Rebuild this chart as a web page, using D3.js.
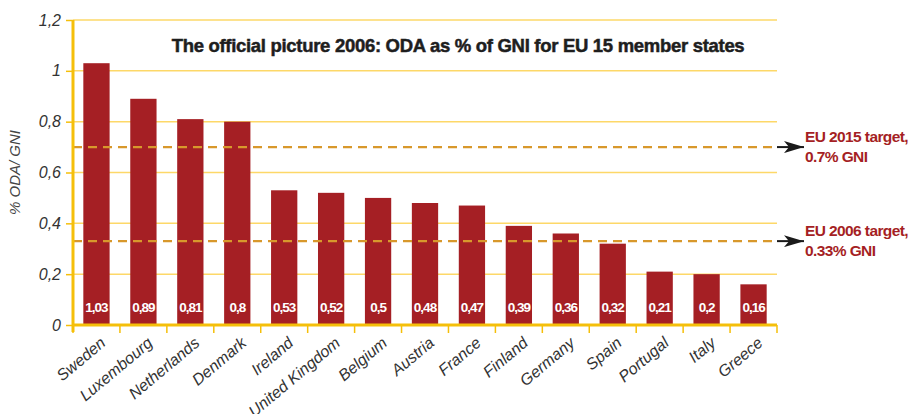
<!DOCTYPE html>
<html>
<head>
<meta charset="utf-8">
<script src="https://cdn.jsdelivr.net/npm/d3@7"></script>
<style>
  body { margin: 0; background: #fff; }
  svg { display: block; font-family: "Liberation Sans", Arial, sans-serif; }
</style>
</head>
<body>
<div id="chart"></div>
<script>
  const countries = ["Sweden", "Luxembourg", "Netherlands", "Denmark", "Ireland", "United Kingdom",
    "Belgium", "Austria", "France", "Finland", "Germany", "Spain", "Portugal", "Italy", "Greece"];
  const odaShare = [1.03, 0.89, 0.81, 0.8, 0.53, 0.52, 0.5, 0.48, 0.47, 0.39, 0.36, 0.32, 0.21, 0.2, 0.16];
  const yTicks = [0, 0.2, 0.4, 0.6, 0.8, 1, 1.2];
  const targets = [
    { value: 0.7, line1: "EU 2015 target,", line2: "0.7% GNI" },
    { value: 0.33, line1: "EU 2006 target,", line2: "0.33% GNI" }
  ];

  const width = 913, height = 414;
  const margin = { top: 20, right: 136, bottom: 89, left: 73 };
  const fmt = d => String(d).replace(".", ",");

  const svg = d3.select("#chart").append("svg")
    .attr("width", width)
    .attr("height", height);

  const x = d3.scaleBand()
    .domain(countries)
    .range([margin.left, width - margin.right])
    .paddingInner(0.44)
    .paddingOuter(0.22);

  const y = d3.scaleLinear()
    .domain([0, 1.2])
    .range([height - margin.bottom, margin.top]);

  // gridlines
  svg.append("g")
    .selectAll("line")
    .data(yTicks.slice(1))
    .enter().append("line")
    .attr("x1", margin.left)
    .attr("x2", width - margin.right)
    .attr("y1", d => y(d))
    .attr("y2", d => y(d))
    .attr("stroke", "#fdd868")
    .attr("stroke-width", 1.5);

  // bars
  svg.append("g")
    .selectAll("rect")
    .data(odaShare)
    .enter().append("rect")
    .attr("x", (d, i) => x(countries[i]))
    .attr("width", x.bandwidth())
    .attr("y", d => y(d))
    .attr("height", d => y(0) - y(d))
    .attr("fill", "#a51f24");

  // value labels
  svg.append("g")
    .selectAll("text")
    .data(odaShare)
    .enter().append("text")
    .attr("x", (d, i) => x(countries[i]) + x.bandwidth() / 2)
    .attr("y", y(0) - 13)
    .attr("text-anchor", "middle")
    .attr("fill", "#fff")
    .attr("font-size", 13.5)
    .attr("font-weight", "bold")
    .attr("letter-spacing", -1)
    .text(d => fmt(d));

  // target lines
  const tg = svg.append("g");
  svg.append("defs").append("marker")
    .attr("id", "arrow")
    .attr("viewBox", "0 0 20 12")
    .attr("refX", 20).attr("refY", 6)
    .attr("markerWidth", 20).attr("markerHeight", 12)
    .attr("markerUnits", "userSpaceOnUse")
    .attr("orient", "auto")
    .append("path")
    .attr("d", "M0,0 L20,6 L0,12 L5,6 Z")
    .attr("fill", "#1a1a1a");

  tg.selectAll("line.target")
    .data(targets)
    .enter().append("line")
    .attr("class", "target")
    .attr("x1", margin.left)
    .attr("x2", width - margin.right)
    .attr("y1", d => y(d.value))
    .attr("y2", d => y(d.value))
    .attr("stroke", "#d8982c")
    .attr("stroke-width", 2.2)
    .attr("stroke-dasharray", "9,6");

  tg.selectAll("line.arrow")
    .data(targets)
    .enter().append("line")
    .attr("class", "arrow")
    .attr("x1", width - margin.right)
    .attr("x2", width - margin.right + 27)
    .attr("y1", d => y(d.value))
    .attr("y2", d => y(d.value))
    .attr("stroke", "#1a1a1a")
    .attr("stroke-width", 2)
    .attr("marker-end", "url(#arrow)");

  const lbl = tg.selectAll("text")
    .data(targets)
    .enter().append("text")
    .attr("x", width - margin.right + 28)
    .attr("y", d => y(d.value) - 5)
    .attr("fill", "#a51f24")
    .attr("font-size", 15.5)
    .attr("font-weight", "bold")
    .attr("letter-spacing", -0.6);
  lbl.append("tspan").text(d => d.line1);
  lbl.append("tspan")
    .attr("x", width - margin.right + 28)
    .attr("dy", 20)
    .text(d => d.line2);

  // y axis
  const yAxis = svg.append("g")
    .attr("transform", `translate(${margin.left},0)`)
    .call(d3.axisLeft(y).tickValues(yTicks).tickFormat(fmt).tickSize(7).tickPadding(5));
  yAxis.select(".domain").attr("stroke", "#f5bf0a").attr("stroke-width", 3)
    .attr("d", `M0,${y(1.2)}V${y(0) + 7}`);
  yAxis.selectAll(".tick line").attr("stroke", "#f5bf0a").attr("stroke-width", 1.5);
  yAxis.selectAll(".tick text")
    .attr("font-size", 16)
    .attr("font-style", "italic")
    .attr("fill", "#333")
    .attr("font-family", "Liberation Sans, Arial, sans-serif");

  // x axis
  const xAxis = svg.append("g")
    .attr("transform", `translate(0,${y(0)})`)
    .call(d3.axisBottom(x).tickSize(0));
  xAxis.select(".domain").attr("stroke", "#f5bf0a").attr("stroke-width", 3)
    .attr("d", `M${margin.left},0H${width - margin.right}`);
  xAxis.selectAll(".tick text").remove();

  const bandTicks = countries.map(c => x(c) - x.step() * x.paddingInner() / 2).concat([width - margin.right]);
  xAxis.selectAll("line.bt")
    .data(bandTicks)
    .enter().append("line")
    .attr("class", "bt")
    .attr("x1", d => d).attr("x2", d => d)
    .attr("y1", 0).attr("y2", 8)
    .attr("stroke", "#f5bf0a")
    .attr("stroke-width", 1.5);

  xAxis.selectAll("text.cl")
    .data(countries)
    .enter().append("text")
    .attr("class", "cl")
    .attr("transform", d => `translate(${x(d) + x.bandwidth() / 2 + 3},${11}) rotate(-40)`)
    .attr("text-anchor", "end")
    .attr("dy", "0.7em")
    .attr("font-size", 16)
    .attr("font-style", "italic")
    .attr("fill", "#333")
    .text(d => d);

  // y label
  svg.append("text")
    .attr("transform", `translate(20,${y(0.6)}) rotate(-90)`)
    .attr("text-anchor", "middle")
    .attr("font-size", 15)
    .attr("font-style", "italic")
    .attr("fill", "#444")
    .text("% ODA/ GNI");

  // title
  svg.append("text")
    .attr("x", 458)
    .attr("y", 52)
    .attr("text-anchor", "middle")
    .attr("font-size", 18.5)
    .attr("font-weight", "bold")
    .attr("fill", "#1e1e1e")
    .attr("stroke", "#1e1e1e")
    .attr("stroke-width", 0.5)
    .attr("letter-spacing", -0.3)
    .text("The official picture 2006: ODA as % of GNI for EU 15 member states");
</script>
</body>
</html>
